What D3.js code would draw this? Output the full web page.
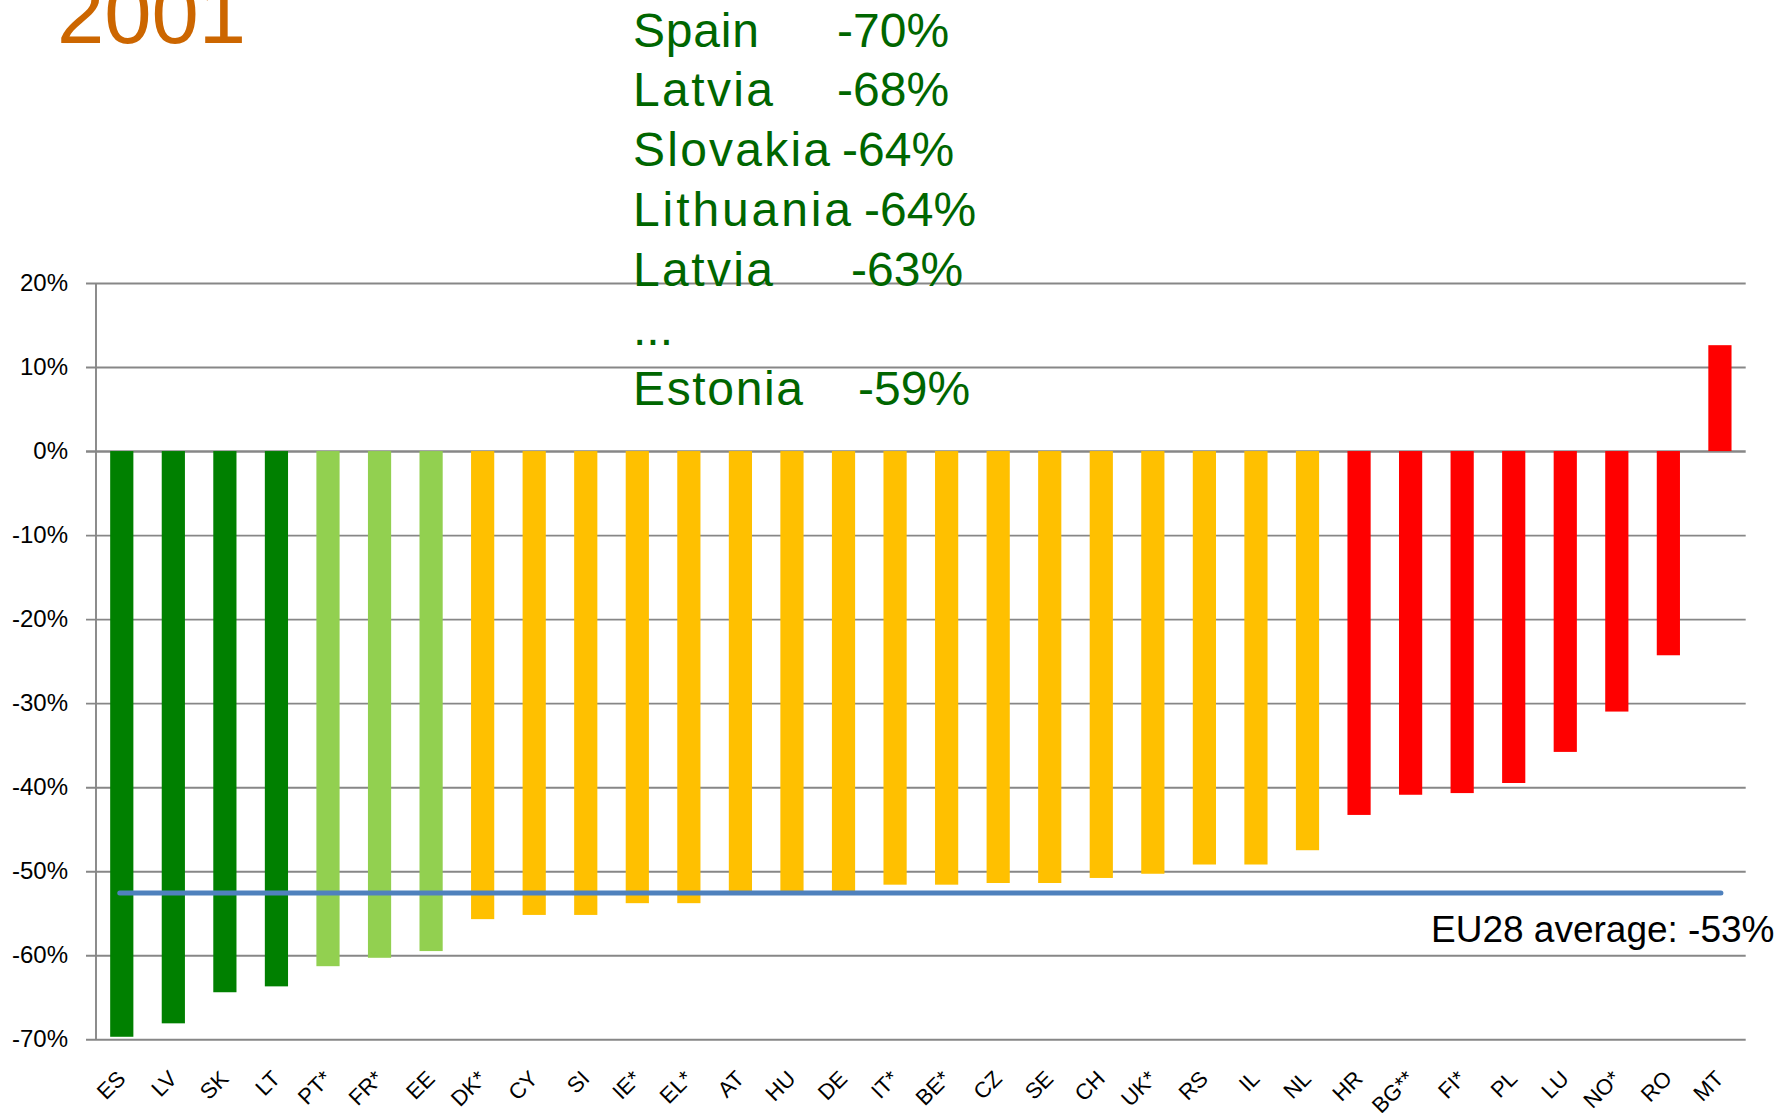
<!DOCTYPE html>
<html>
<head>
<meta charset="utf-8">
<script src="https://cdn.jsdelivr.net/npm/d3@7"></script>
<style>
  body { margin: 0; background: #fff; }
  text { font-family: "Liberation Sans", Arial, sans-serif; }
</style>
</head>
<body>
<div id="chart"></div>
<script>
var width = 1789,
    height = 1113;

// countries, in the order of the bars
var countries = ["ES", "LV", "SK", "LT", "PT*", "FR*", "EE", "DK*", "CY", "SI", "IE*", "EL*",
    "AT", "HU", "DE", "IT*", "BE*", "CZ", "SE", "CH", "UK*", "RS", "IL", "NL",
    "HR", "BG**", "FI*", "PL", "LU", "NO*", "RO", "MT"];

// change since 2001, in %
var changes = [-69.7, -68.1, -64.4, -63.7, -61.3, -60.3, -59.5, -55.7, -55.2, -55.2, -53.8, -53.8,
    -52.4, -52.4, -52.4, -51.6, -51.6, -51.4, -51.4, -50.8, -50.3, -49.2, -49.2, -47.5,
    -43.3, -40.9, -40.7, -39.5, -35.8, -31.0, -24.3, 12.6];

var groups = ["best", "best", "best", "best", "good", "good", "good",
    "mid", "mid", "mid", "mid", "mid", "mid", "mid", "mid", "mid", "mid", "mid", "mid", "mid", "mid", "mid", "mid", "mid",
    "bad", "bad", "bad", "bad", "bad", "bad", "bad", "bad"];

var groupColors = {best: "#008000", good: "#92D050", mid: "#FFC000", bad: "#FF0000"};

var yTicks = [20, 10, 0, -10, -20, -30, -40, -50, -60, -70];

var euAverage = -52.6;
var euLabel = "EU28 average: -53%";

var topNames = ["Spain", "Latvia", "Slovakia", "Lithuania", "Latvia", "...", "Estonia"];
var topValues = ["-70%", "-68%", "-64%", "-64%", "-63%", "", "-59%"];

var title = "2001";

var svg = d3.select("#chart")
    .append("svg")
    .attr("width", width)
    .attr("height", height);

svg.append("rect").attr("width", width).attr("height", height).attr("fill", "#fff");

var left = 96, right = 1745.7;

var x = d3.scaleBand()
    .domain(countries)
    .range([left, right])
    .paddingInner(0.55)
    .paddingOuter(0.275);

var y = d3.scaleLinear()
    .domain([-70, 20])
    .range([1039.3, 283]);

// gridlines + tick labels
var yAxis = svg.append("g")
    .attr("transform", "translate(86,0)")
    .call(d3.axisLeft(y)
        .tickValues(yTicks)
        .tickSize(-(right - 86))
        .tickPadding(18)
        .tickFormat(function(d) { return d + "%"; }));

yAxis.select(".domain").remove();
yAxis.selectAll(".tick line")
    .attr("stroke", "#878787")
    .attr("stroke-width", function(d) { return d === 0 ? 2.4 : 1.9; });
yAxis.selectAll(".tick text")
    .attr("fill", "#000")
    .style("font-size", "24px")
    .style("font-family", "'Liberation Sans', Arial, sans-serif");

svg.append("line")
    .attr("x1", left).attr("x2", left)
    .attr("y1", y(20)).attr("y2", y(-70))
    .attr("stroke", "#878787")
    .attr("stroke-width", 1.9);

// bars
svg.append("g")
    .selectAll("rect")
    .data(countries)
    .enter()
    .append("rect")
    .attr("x", function(d) { return x(d); })
    .attr("width", x.bandwidth())
    .attr("y", function(d, i) { return y(Math.max(0, changes[i])); })
    .attr("height", function(d, i) { return Math.abs(y(changes[i]) - y(0)); })
    .attr("fill", function(d, i) { return groupColors[groups[i]]; });

// category labels
svg.append("g")
    .selectAll("text")
    .data(countries)
    .enter()
    .append("text")
    .attr("transform", function(d) {
        return "translate(" + (x(d) + x.bandwidth() / 2 + 5) + ",1080) rotate(-45)";
    })
    .attr("text-anchor", "end")
    .style("font-size", "22px")
    .attr("fill", "#000")
    .text(function(d) { return d; });

// EU average line
svg.append("line")
    .attr("x1", x(countries[0]) + x.bandwidth() / 2 - 2)
    .attr("x2", x(countries[countries.length - 1]) + x.bandwidth() / 2 + 1)
    .attr("y1", y(euAverage))
    .attr("y2", y(euAverage))
    .attr("stroke", "#4F81BD")
    .attr("stroke-width", 5)
    .attr("stroke-linecap", "round");

svg.append("text")
    .attr("x", 1431)
    .attr("y", 942)
    .style("font-size", "37px")
    .attr("fill", "#000")
    .text(euLabel);

// title, cut at the top as in the slide
svg.append("text")
    .attr("x", 57)
    .attr("y", 43)
    .style("font-size", "85px")
    .attr("fill", "#CC6600")
    .text(title);

// green list of best performers
var nameWidth = [126, 140, 197, 218, 140, 0, 170];
var valueX = [837, 837, 842, 864, 851, 0, 858];
var list = svg.append("g").attr("fill", "#006600").style("font-size", "48px");

list.selectAll("text.name")
    .data(topNames)
    .enter()
    .append("text")
    .attr("class", "name")
    .attr("x", 633)
    .attr("y", function(d, i) { return 46.7 + i * 59.7; })
    .each(function(d, i) {
        if (nameWidth[i]) {
            d3.select(this).attr("textLength", nameWidth[i]).attr("lengthAdjust", "spacing");
        }
    })
    .text(function(d) { return d; });

list.selectAll("text.val")
    .data(topValues)
    .enter()
    .append("text")
    .attr("class", "val")
    .attr("x", function(d, i) { return valueX[i]; })
    .attr("y", function(d, i) { return 46.7 + i * 59.7; })
    .text(function(d) { return d; });
</script>
</body>
</html>
